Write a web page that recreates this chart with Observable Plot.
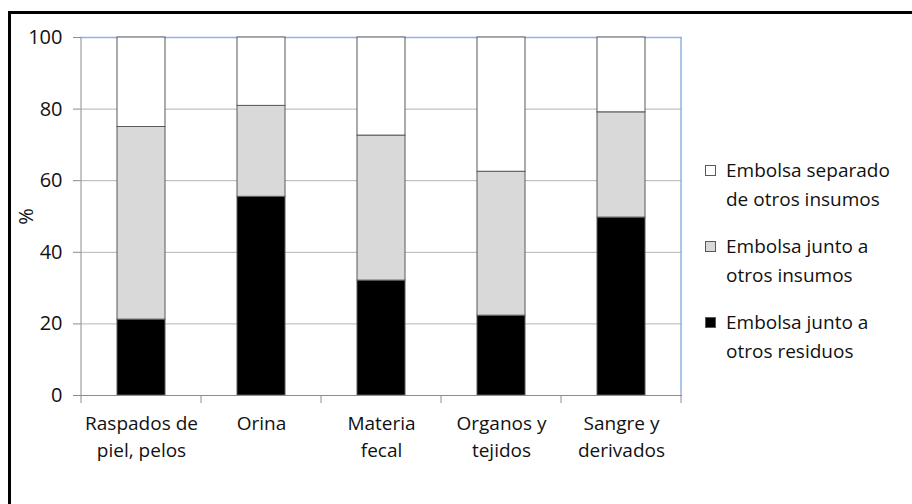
<!DOCTYPE html>
<html><head><meta charset="utf-8">
<script src="https://cdn.jsdelivr.net/npm/d3@7"></script>
<script src="https://cdn.jsdelivr.net/npm/@observablehq/plot@0.6"></script>
<style>
body{margin:0;background:#fff;font-family:"Open Sans",sans-serif;}
#wrap{position:relative;width:912px;height:504px;overflow:hidden;background:#fff;}
#frame{position:absolute;left:8px;top:11px;width:1000px;height:600px;border-left:3px solid #000;border-top:3px solid #000;box-sizing:border-box;}
#chart{position:absolute;left:0;top:0;}
#legend{position:absolute;left:705px;top:0;font-size:19px;line-height:29px;color:#111;}
.item{position:absolute;left:0;width:205px;}
.sw{position:absolute;left:0;top:9px;width:11px;height:11px;border:1px solid #595959;box-sizing:border-box;}
.lab{position:absolute;left:21px;white-space:nowrap;}
</style>
</head><body>
<div id="wrap"><div id="frame"></div><div id="chart"></div><div id="legend"></div></div>
<script>
const categories = ["Raspados de\npiel, pelos", "Orina", "Materia\nfecal", "Organos y\ntejidos", "Sangre y\nderivados"];
const series = ["Embolsa junto a otros residuos", "Embolsa junto a otros insumos", "Embolsa separado de otros insumos"];
const legendLines = [["Embolsa separado", "de otros insumos"], ["Embolsa junto a", "otros insumos"], ["Embolsa junto a", "otros residuos"]];
const juntoResiduos = [21.2, 55.5, 32.1, 22.3, 49.7];
const juntoInsumos = [53.8, 25.4, 40.5, 40.2, 29.4];
const separado = [25.0, 19.1, 27.4, 37.5, 20.9];
const colors = ["#000000", "#d9d9d9", "#ffffff"];
const yTicks = [0, 20, 40, 60, 80, 100];

const valuesBySeries = [juntoResiduos, juntoInsumos, separado];
const data = [];
categories.forEach((c, i) => series.forEach((s, j) => data.push({cat: c, series: s, value: valuesBySeries[j][i]})));

const plot = Plot.plot({
  width: 912, height: 504,
  marginLeft: 80, marginRight: 230, marginTop: 37, marginBottom: 109,
  style: {fontFamily: "Open Sans", fontSize: "19px", color: "#111", background: "transparent"},
  x: {domain: categories, paddingInner: 0.6, paddingOuter: 0.3},
  y: {domain: [0, 100], ticks: yTicks},
  color: {domain: series, range: colors},
  marks: [
    Plot.ruleY([20, 40, 60, 80], {stroke: "#b3b3b3", strokeWidth: 1}),
    Plot.ruleY([100], {stroke: "#8eb4e3", strokeWidth: 1.5}),
    Plot.barY(data, {x: "cat", y: "value", fill: "series", stroke: "#595959", strokeWidth: 1}),
    Plot.ruleY([0], {stroke: "#8c8c8c", strokeWidth: 1}),
    Plot.axisY({ticks: yTicks, tickSize: 7, tickPadding: 11, stroke: "#8c8c8c", fill: "#111", fontSize: 20,
      label: "%", labelAnchor: "center", labelArrow: "none", labelOffset: 62}),
    Plot.axisX({tickSize: 0, tickPadding: 16, fontSize: 19, lineHeight: 1.4, label: null, fill: "#111"})
  ]
});
document.getElementById("chart").appendChild(plot);

// axis lines and category boundary ticks derived from the x scale
const xs = plot.scale("x");
const ys = plot.scale("y");
const svg = d3.select(plot);
const gap = xs.step - xs.bandwidth;
const bounds = categories.map(c => xs.apply(c) - gap / 2);
bounds.push(xs.apply(categories[categories.length - 1]) + xs.bandwidth + gap / 2);
const y0 = ys.apply(0), y100 = ys.apply(100);
const g = svg.append("g");
g.append("line").attr("x1", bounds[bounds.length - 1]).attr("x2", bounds[bounds.length - 1])
  .attr("y1", y100).attr("y2", y0).attr("stroke", "#8eb4e3").attr("stroke-width", 1.5);
g.append("line").attr("x1", bounds[0]).attr("x2", bounds[0])
  .attr("y1", y100).attr("y2", y0 + 8).attr("stroke", "#8c8c8c");
g.selectAll("line.bt").data(bounds.slice(1)).join("line").attr("class", "bt")
  .attr("x1", d => d).attr("x2", d => d).attr("y1", y0).attr("y2", y0 + 8).attr("stroke", "#8c8c8c");

// legend
const legend = document.getElementById("legend");
const order = [2, 1, 0];
order.forEach((si, k) => {
  const it = document.createElement("div");
  it.className = "item";
  it.style.top = (156 + k * 76) + "px";
  const sw = document.createElement("div");
  sw.className = "sw";
  sw.style.background = colors[si];
  it.appendChild(sw);
  const lab = document.createElement("div");
  lab.className = "lab";
  lab.innerHTML = legendLines[k].join("<br>");
  it.appendChild(lab);
  legend.appendChild(it);
});
</script>
</body></html>
